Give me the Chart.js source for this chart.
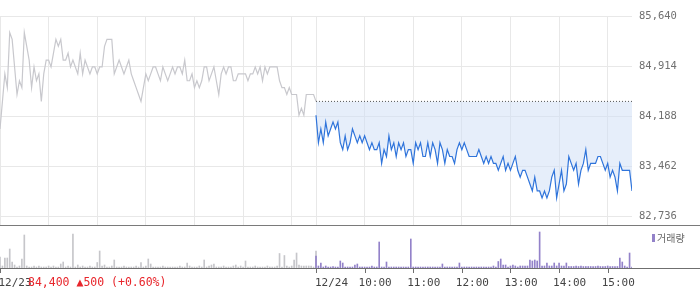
<!DOCTYPE html>
<html>
<head>
<meta charset="utf-8">
<script src="https://cdn.jsdelivr.net/npm/chart.js@4.4.0/dist/chart.umd.min.js"></script>
<style>
  body { margin: 0; background: #fff; }
  #wrap { position: relative; width: 700px; height: 289px; overflow: hidden; }
  #price-chart { position: absolute; left: 0; top: 0; }
  #volume-chart { position: absolute; left: 0; top: 226px; }
</style>
</head>
<body>
<div id="wrap">
  <canvas id="price-chart" width="700" height="227"></canvas>
  <canvas id="volume-chart" width="700" height="63"></canvas>
</div>
<script>
// one sample every 3 minutes, 09:00 -> 15:30 (131 values per day)
const stepMinutes = 3;
const dayMinutes = 390;
const prevClose = 84400;
const priceTicks = [82736, 83462, 84188, 84914, 85640];
const gridMinutes = [0, 60, 120, 180, 240, 300, 360, 390, 450, 510, 570, 630, 690, 750];
const axisMinutes = [0, 390, 450, 510, 570, 630, 690, 750];
const axisLabels = ['12/23', '12/24', '10:00', '11:00', '12:00', '13:00', '14:00', '15:00'];
const quoteText = '84,400 ▲500 (+0.60%)';
const legendText = '거래량';

// 12/23 (gray)
const prices1223 = [
    84000, 84400, 84800, 84600, 85400, 85300, 84900, 84500, 84700, 84600,
    85400, 85200, 85000, 84600, 84900, 84700, 84800, 84400, 84800, 85000,
    85000, 84900, 85100, 85300, 85200, 85300, 85000, 85000, 85100, 84900,
    85000, 84900, 84800, 85100, 84800, 85000, 84900, 84800, 84900, 84900,
    84800, 84900, 84900, 85200, 85300, 85300, 85300, 84800, 84900, 85000,
    84900, 84800, 84900, 85000, 84800, 84700, 84600, 84500, 84400, 84600,
    84800, 84700, 84800, 84900, 84900, 84800, 84700, 84900, 84800, 84700,
    84800, 84900, 84800, 84900, 84900, 84800, 85000, 84700, 84700, 84800,
    84600, 84700, 84600, 84700, 84900, 84900, 84700, 84800, 84900, 84700,
    84500, 84800, 84900, 84800, 84900, 84900, 84700, 84700, 84800, 84800,
    84800, 84800, 84700, 84800, 84800, 84900, 84800, 84900, 84700, 84900,
    84800, 84900, 84900, 84900, 84900, 84700, 84600, 84600, 84500, 84600,
    84500, 84500, 84500, 84200, 84300, 84200, 84500, 84500, 84500, 84500,
    84400
];

// 12/24 (blue)
const prices1224 = [
    84200, 83800, 84000, 83800, 84100, 83900, 84000, 84100, 84000, 84100,
    83800, 83700, 83900, 83700, 83800, 84000, 83900, 83800, 83900, 83800,
    83900, 83800, 83700, 83800, 83700, 83700, 83800, 83500, 83700, 83600,
    83900, 83700, 83800, 83600, 83800, 83700, 83800, 83600, 83700, 83700,
    83500, 83800, 83700, 83800, 83600, 83600, 83800, 83600, 83800, 83700,
    83500, 83800, 83700, 83500, 83700, 83600, 83600, 83500, 83700, 83800,
    83700, 83800, 83700, 83600, 83600, 83600, 83600, 83700, 83600, 83500,
    83600, 83500, 83600, 83500, 83500, 83400, 83500, 83600, 83400, 83500,
    83400, 83500, 83600, 83400, 83300, 83400, 83400, 83300, 83200, 83100,
    83300, 83100, 83100, 83000, 83100, 83000, 83100, 83300, 83400, 83000,
    83200, 83400, 83100, 83200, 83600, 83500, 83400, 83500, 83200, 83400,
    83500, 83700, 83400, 83500, 83500, 83500, 83600, 83600, 83500, 83400,
    83500, 83300, 83400, 83300, 83100, 83500, 83400, 83400, 83400, 83400,
    83100
];

// volume, same sampling (thousand shares)
const volumes1223 = [
    11, 2, 10, 10, 19, 6, 3, 1, 2, 9,
    33, 2, 1, 1, 2, 1, 2, 1, 1, 1,
    2, 1, 2, 1, 1, 4, 6, 1, 2, 1,
    34, 1, 3, 1, 2, 1, 1, 2, 1, 1,
    5.5, 17, 2, 3, 1, 1, 2, 8, 1, 1,
    1, 2, 1, 1, 1, 1, 2, 1, 5.5, 1,
    2, 9, 4, 1, 1, 1, 1, 2, 1, 1,
    1, 1, 1, 1, 2, 1, 1, 5, 2, 1,
    1, 1, 2, 1, 8, 1, 2, 3, 4, 1,
    1, 1, 2, 1, 1, 1, 2, 3, 1, 2,
    1, 7, 1, 1, 1, 2, 1, 1, 1, 1,
    2, 1, 1, 1, 2, 14.5, 1, 12.5, 2, 1,
    2, 8, 15, 3, 2, 2, 2, 2, 2, 1,
    17
];
const volumes1224 = [
    12, 2, 5, 1, 2, 1, 1, 1.5, 1, 1,
    7, 5, 1, 1, 1, 1, 3, 4, 1, 1,
    1, 1, 1, 2, 1, 1, 26, 1, 1, 6,
    1, 1, 1, 1, 1, 1, 1, 1, 1, 29,
    1, 1, 1, 1, 1, 1, 1, 1, 1, 1,
    1, 1, 4, 1, 1, 1, 1, 1, 1, 5,
    1, 1, 1, 1, 1, 1, 1, 1, 1, 1,
    1, 1, 1, 2, 1, 6.5, 9, 3, 3, 1,
    2, 3, 2, 1, 2, 2, 2, 2, 8, 7,
    8, 7, 36, 2, 2, 5, 2, 2, 5, 2,
    5, 2, 2, 5, 1.5, 1.5, 1.5, 2, 1.5, 2,
    1.5, 1.5, 1.5, 1.5, 1.5, 1.5, 2, 1.5, 1.5, 1.5,
    2, 1.5, 1.5, 1.5, 1.5, 10, 6, 2, 1, 15,
    1
];

const toPoints = (values, day) => values.map((v, i) => ({ x: day * dayMinutes + i * stepMinutes, y: v }));
const monoFont = '"DejaVu Sans Mono", monospace';

// 가격 차트
const priceFrame = {
    id: 'priceFrame',
    afterDraw(chart) {
        const ctx = chart.ctx;
        ctx.save();
        ctx.strokeStyle = '#7a7a7a';
        ctx.lineWidth = 1;
        ctx.beginPath();
        ctx.moveTo(0, 225.5);
        ctx.lineTo(700, 225.5);
        ctx.stroke();
        ctx.restore();
    }
};

new Chart(document.getElementById('price-chart'), {
    type: 'line',
    data: {
        datasets: [
            {
                data: [{ x: dayMinutes, y: prevClose }, { x: dayMinutes * 2, y: prevClose }],
                borderColor: '#555',
                borderWidth: 1,
                borderDash: [1, 2],
                pointRadius: 0,
                fill: false
            },
            {
                data: toPoints(prices1224, 1),
                borderColor: '#2f74db',
                borderWidth: 1.2,
                pointRadius: 0,
                fill: { value: prevClose },
                backgroundColor: 'rgba(205, 221, 245, 0.5)'
            },
            {
                data: toPoints(prices1223, 0),
                borderColor: '#c8c8cd',
                borderWidth: 1.2,
                pointRadius: 0,
                fill: false
            }
        ]
    },
    options: {
        responsive: false,
        animation: false,
        layout: { padding: { top: 16, bottom: 1, left: 0, right: 0 } },
        plugins: { legend: { display: false }, tooltip: { enabled: false } },
        scales: {
            x: {
                type: 'linear',
                min: 0,
                max: dayMinutes * 2,
                ticks: { display: false },
                grid: { color: '#e8e8e8', drawTicks: false },
                border: { display: false },
                afterBuildTicks: s => { s.ticks = gridMinutes.map(v => ({ value: v })); },
                afterFit: s => { s.height = 0; }
            },
            y: {
                position: 'right',
                min: 82591,
                max: 85640,
                ticks: {
                    color: '#707070',
                    padding: 7,
                    font: { family: monoFont, size: 10.5 },
                    callback: v => v.toLocaleString('en-US')
                },
                grid: { color: '#e8e8e8', drawTicks: false },
                border: { display: false },
                afterBuildTicks: s => { s.ticks = priceTicks.map(v => ({ value: v })); },
                afterFit: s => { s.width = 68; s.paddingTop = 0; s.paddingBottom = 0; }
            }
        }
    },
    plugins: [priceFrame]
});

// 거래량 차트 + 시간축
const volumeAxis = {
    id: 'volumeAxis',
    afterDraw(chart) {
        const ctx = chart.ctx;
        const xs = chart.scales.x;
        const base = chart.chartArea.bottom;
        ctx.save();
        ctx.strokeStyle = '#6f6f6f';
        ctx.lineWidth = 1;
        ctx.beginPath();
        ctx.moveTo(0, base + 0.5);
        ctx.lineTo(700, base + 0.5);
        axisMinutes.forEach(m => {
            const px = Math.round(xs.getPixelForValue(m)) + 0.5;
            ctx.moveTo(px, base);
            ctx.lineTo(px, base + 5);
        });
        ctx.stroke();

        ctx.textBaseline = 'alphabetic';
        ctx.textAlign = 'left';
        ctx.font = '11px ' + monoFont;
        ctx.fillStyle = '#444';
        axisLabels.forEach((label, i) => {
            const px = xs.getPixelForValue(axisMinutes[i]);
            let shift = -6;
            if (i === 0) shift = -1.5;
            if (i === 1) shift = -1;
            ctx.fillText(label, px + shift, base + 18);
        });

        ctx.font = '11.5px ' + monoFont;
        ctx.fillStyle = '#e8262c';
        ctx.fillText(quoteText, 28, base + 18);

        // legend
        ctx.fillStyle = '#9382c9';
        ctx.fillRect(652, 8, 3, 8);
        ctx.font = '10px "Noto Sans CJK KR"';
        ctx.fillStyle = '#666';
        ctx.fillText(legendText, 657, 16);
        ctx.restore();
    }
};

new Chart(document.getElementById('volume-chart'), {
    type: 'bar',
    data: {
        datasets: [
            { data: toPoints(volumes1224, 1), backgroundColor: '#9382c9', barThickness: 1, grouped: false },
            { data: toPoints(volumes1223, 0), backgroundColor: '#c6c6ca', barThickness: 1, grouped: false }
        ]
    },
    options: {
        responsive: false,
        animation: false,
        layout: { padding: { top: 2, bottom: 21, left: 0, right: 68 } },
        plugins: { legend: { display: false }, tooltip: { enabled: false } },
        scales: {
            x: { type: 'linear', min: 0, max: dayMinutes * 2, offset: false, display: false },
            y: { min: 0, max: 40, display: false }
        }
    },
    plugins: [volumeAxis]
});
</script>
</body>
</html>
